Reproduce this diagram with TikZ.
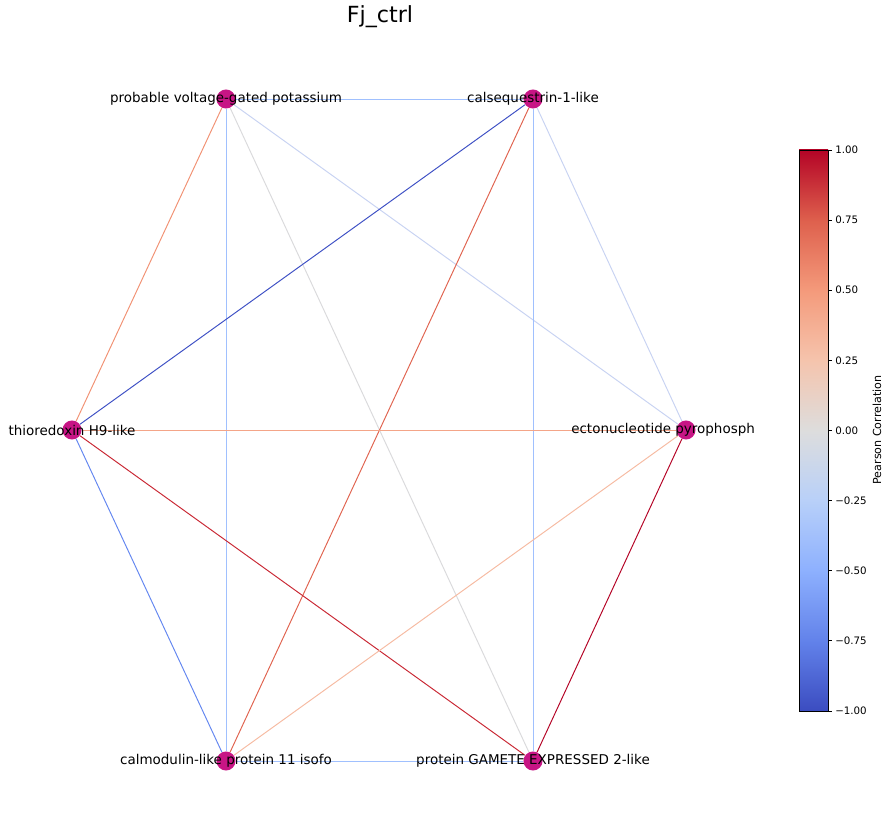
\documentclass[tikz,border=0pt]{standalone}
\usepackage{fontspec}
\setmainfont{DejaVu Sans}
\usepackage{xcolor}
\usepackage{tikz}
\usetikzlibrary{backgrounds}
\definecolor{genedot}{HTML}{C71585}
% coolwarm stops
\definecolor{cw0}{RGB}{59,76,192}
\definecolor{cw1}{RGB}{98,130,234}
\definecolor{cw2}{RGB}{141,176,254}
\definecolor{cw3}{RGB}{184,208,249}
\definecolor{cw4}{RGB}{221,221,221}
\definecolor{cw5}{RGB}{245,196,173}
\definecolor{cw6}{RGB}{244,154,123}
\definecolor{cw7}{RGB}{222,96,77}
\definecolor{cw8}{RGB}{180,4,38}
% edge colours
\definecolor{lightneg}{RGB}{160,192,254}
\definecolor{paleneg}{RGB}{200,211,242}
\definecolor{nearzero}{RGB}{218,218,220}
\definecolor{midpos}{RGB}{241,146,116}
\definecolor{lowpos}{RGB}{244,165,136}
\definecolor{softpos}{RGB}{246,187,162}
\definecolor{highpos}{RGB}{224,100,80}
\definecolor{strongpos}{RGB}{201,40,52}
\definecolor{toppos}{RGB}{180,4,38}
\definecolor{midneg}{RGB}{100,135,240}
\definecolor{strongneg}{RGB}{62,80,196}

\begin{document}
\begin{tikzpicture}[
    x=0.72pt, y=-0.72pt,
    gene/.style={circle, fill=genedot, draw=none, minimum size=13.7pt, inner sep=0pt},
    genelabel/.style={font=\fontsize{9.7}{12}\selectfont, text=black, inner sep=0pt},
    corr/.style={line width=0.7pt},
    ticklabel/.style={font=\fontsize{7.4}{9}\selectfont, anchor=west, inner sep=0pt}
]
\useasboundingbox (0,0) rectangle (890,839);

% Title
\node[font=\fontsize{16}{19}\selectfont] (title) at (380,17) {Fj\_ctrl};

% Genes
\node[gene] (pvgp) at (226,99) {};
\node[gene] (calseq) at (533,99) {};
\node[gene] (thio) at (72,430) {};
\node[gene] (ecto) at (686,430) {};
\node[gene] (calmod) at (226,761) {};
\node[gene] (gamete) at (533,761) {};

\node[genelabel] (pvgp-l) at (pvgp) {probable voltage-gated potassium};
\node[genelabel] (calseq-l) at (calseq) {calsequestrin-1-like};
\node[genelabel] (thio-l) at (thio) {thioredoxin H9-like};
\node[genelabel, anchor=west] (ecto-l) at (571,430) {ectonucleotide pyrophosph};
\node[genelabel] (calmod-l) at (calmod) {calmodulin-like protein 11 isofo};
\node[genelabel] (gamete-l) at (gamete) {protein GAMETE EXPRESSED 2-like};

% Correlations
\begin{scope}[on background layer]
\draw[corr, lightneg] (pvgp) -- (calseq);
\draw[corr, midpos] (pvgp) -- (thio);
\draw[corr, lightneg] (pvgp) -- (calmod);
\draw[corr, nearzero] (pvgp) -- (gamete);
\draw[corr, paleneg] (pvgp) -- (ecto);
\draw[corr, strongneg] (calseq) -- (thio);
\draw[corr, highpos] (calseq) -- (calmod);
\draw[corr, lightneg] (calseq) -- (gamete);
\draw[corr, paleneg] (calseq) -- (ecto);
\draw[corr, lowpos] (thio) -- (ecto);
\draw[corr, midneg] (thio) -- (calmod);
\draw[corr, strongpos] (thio) -- (gamete);
\draw[corr, softpos] (ecto) -- (calmod);
\draw[corr, toppos] (ecto) -- (gamete);
\draw[corr, lightneg] (calmod) -- (gamete);
\end{scope}

% Colour bar
\foreach \i/\lo/\hi in {0/cw0/cw1, 1/cw1/cw2, 2/cw2/cw3, 3/cw3/cw4, 4/cw4/cw5, 5/cw5/cw6, 6/cw6/cw7, 7/cw7/cw8}
    \shade[bottom color=\lo, top color=\hi] (799,{711-\i*70.125+0.4}) rectangle (828,{711-(\i+1)*70.125});
\draw[line width=0.6pt] (799,150) rectangle (828,711);
\foreach \v [count=\k from 0] in {−1.00,−0.75,−0.50,−0.25,0.00,0.25,0.50,0.75,1.00} {
    \draw[line width=0.6pt] (828,{711-\k*70.125}) -- (832,{711-\k*70.125});
    \node[ticklabel] (tick\k) at (835,{711-\k*70.125}) {\v};
}
\node[font=\fontsize{8}{10}\selectfont, rotate=90] (cbar-l) at (877,430) {Pearson Correlation};
\end{tikzpicture}
\end{document}
